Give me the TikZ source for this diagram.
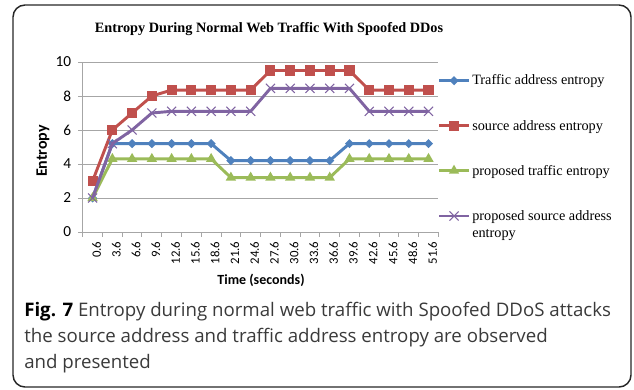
\documentclass[tikz,border=0pt]{standalone}
\usepackage{fontspec}
\setmainfont{Liberation Serif}
\newfontfamily\calfont{Carlito}
\newfontfamily\capfont{Open Sans}
\usetikzlibrary{shapes.geometric,shapes.misc}
\definecolor{cblue}{HTML}{4F81BD}
\definecolor{cred}{HTML}{C0504D}
\definecolor{cgreen}{HTML}{9BBB59}
\definecolor{cpurple}{HTML}{8064A2}
\definecolor{gridc}{HTML}{A6A6A6}
\definecolor{captc}{HTML}{3A3A3A}
\tikzset{
  serline/.style={line width=2.2pt, line join=round},
  bmark/.style={diamond, fill=cblue, inner sep=0pt, minimum size=7pt},
  rmark/.style={rectangle, fill=cred, inner sep=0pt, minimum size=7.6pt},
  gmark/.style={regular polygon, regular polygon sides=3, fill=cgreen, inner sep=0pt, minimum size=9pt},
  pmark/.style={cross out, draw=cpurple, line width=0.8pt, inner sep=0pt, minimum size=6pt},
  gridline/.style={draw=gridc, line width=0.75pt},
  ytick/.style={font=\calfont\fontsize{11.5}{13}\selectfont, anchor=east, inner sep=0pt},
  xtick/.style={font=\calfont\fontsize{9.6}{11}\selectfont, anchor=east, rotate=90, inner sep=0pt},
  legtext/.style={font=\fontsize{10.7}{12.8}\selectfont, anchor=base west, inner sep=0pt, align=left},
  captext/.style={font=\capfont\fontsize{14}{16}\selectfont, text=captc, anchor=base west, inner sep=0pt}
}
\begin{document}
\begin{tikzpicture}[x=0.75pt,y=-0.75pt]
\useasboundingbox (0,0) rectangle (634,389);
% frame
\draw[line width=1.1pt, draw=black!85, rounded corners=9pt] (13,5) rectangle (631,387);
% title
\node[font=\bfseries\fontsize{10.7}{12.8}\selectfont, anchor=base, inner sep=0pt] (title) at (269,32) {Entropy During Normal Web Traffic With Spoofed DDos};
% grid and axes
\foreach \v in {2,4,6,8,10} \draw[gridline] (82.7,{232-17*\v}) -- (438.3,{232-17*\v});
\draw[gridline] (82.7,62) -- (82.7,232) -- (438.3,232);
\foreach \v in {0,2,...,10} {
  \draw[gridline] (78,{232-17*\v}) -- (82.7,{232-17*\v});
  \node[ytick] (yl\v) at (71.5,{232-17*\v}) {\v};
}
\foreach \k in {0,...,18} \draw[gridline] ({82.7+19.76*\k},232) -- ({82.7+19.76*\k},237);
\foreach \t [count=\i from 0] in {0.6,3.6,6.6,9.6,12.6,15.6,18.6,21.6,24.6,27.6,30.6,33.6,36.6,39.6,42.6,45.6,48.6,51.6}
  \node[xtick] (xl\i) at ({82.7+19.76*(\i+0.5)+4},241.5) {\t};
\node[font=\calfont\bfseries\fontsize{10.5}{12}\selectfont, anchor=base, inner sep=0pt] (xlab) at (261,284) {Time (seconds)};
\node[font=\calfont\bfseries\fontsize{12}{14}\selectfont, rotate=90, inner sep=0pt] (ylab) at (43,151) {Entropy};
% data
\foreach \v [count=\i from 0] in {2,5.2,5.2,5.2,5.2,5.2,5.2,4.2,4.2,4.2,4.2,4.2,4.2,5.2,5.2,5.2,5.2,5.2}
  \coordinate (b\i) at ({82.7+19.76*(\i+0.5)},{232-17*\v});
\foreach \v [count=\i from 0] in {3,6,7,8,8.35,8.35,8.35,8.35,8.35,9.5,9.5,9.5,9.5,9.5,8.35,8.35,8.35,8.35}
  \coordinate (r\i) at ({82.7+19.76*(\i+0.5)},{232-17*\v});
\foreach \v [count=\i from 0] in {2,4.3,4.3,4.3,4.3,4.3,4.3,3.2,3.2,3.2,3.2,3.2,3.2,4.3,4.3,4.3,4.3,4.3}
  \coordinate (g\i) at ({82.7+19.76*(\i+0.5)},{232-17*\v});
\foreach \v [count=\i from 0] in {2,5.2,6,7,7.1,7.1,7.1,7.1,7.1,8.45,8.45,8.45,8.45,8.45,7.1,7.1,7.1,7.1}
  \coordinate (p\i) at ({82.7+19.76*(\i+0.5)},{232-17*\v});
\draw[serline, cblue] (b0) \foreach \i in {1,...,17} { -- (b\i) };
\foreach \i in {0,...,17} \node[bmark] (bm\i) at (b\i) {};
\draw[serline, cred] (r0) \foreach \i in {1,...,17} { -- (r\i) };
\foreach \i in {0,...,17} \node[rmark] (rm\i) at (r\i) {};
\draw[serline, cgreen] (g0) \foreach \i in {1,...,17} { -- (g\i) };
\foreach \i in {0,...,17} \node[gmark] (gm\i) at (g\i) {};
\draw[serline, cpurple] (p0) \foreach \i in {1,...,17} { -- (p\i) };
\foreach \i in {0,...,17} \node[pmark] (pm\i) at (p\i) {};
% legend
\coordinate (la1) at (439,80.7); \coordinate (lb1) at (469,80.7);
\coordinate (la2) at (439,125.7); \coordinate (lb2) at (469,125.7);
\coordinate (la3) at (439,170.7); \coordinate (lb3) at (469,170.7);
\coordinate (la4) at (439,216); \coordinate (lb4) at (469,216);
\draw[serline, cblue] (la1) -- (lb1); \node[bmark] (lm1) at (454,80.7) {};
\draw[serline, cred] (la2) -- (lb2); \node[rmark] (lm2) at (454,125.7) {};
\draw[serline, cgreen] (la3) -- (lb3); \node[gmark] (lm3) at (454,170.7) {};
\draw[serline, cpurple] (la4) -- (lb4); \node[pmark] (lm4) at (454,216) {};
\node[legtext] (lt1) at (472,84.5) {Traffic address entropy};
\node[legtext] (lt2) at (472,130) {source address entropy};
\node[legtext] (lt3) at (472,175) {proposed traffic entropy};
\node[legtext] (lt4) at (472,220) {proposed source address};
\node[legtext] (lt5) at (472,237) {entropy};
% caption
\node[captext] (c1) at (24,316) {\textcolor{black}{\bfseries Fig. 7} Entropy during normal web traffic with Spoofed DDoS attacks};
\node[captext] (c2) at (24,342) {the source address and traffic address entropy are observed};
\node[captext] (c3) at (24,368) {and presented};
\end{tikzpicture}
\end{document}
